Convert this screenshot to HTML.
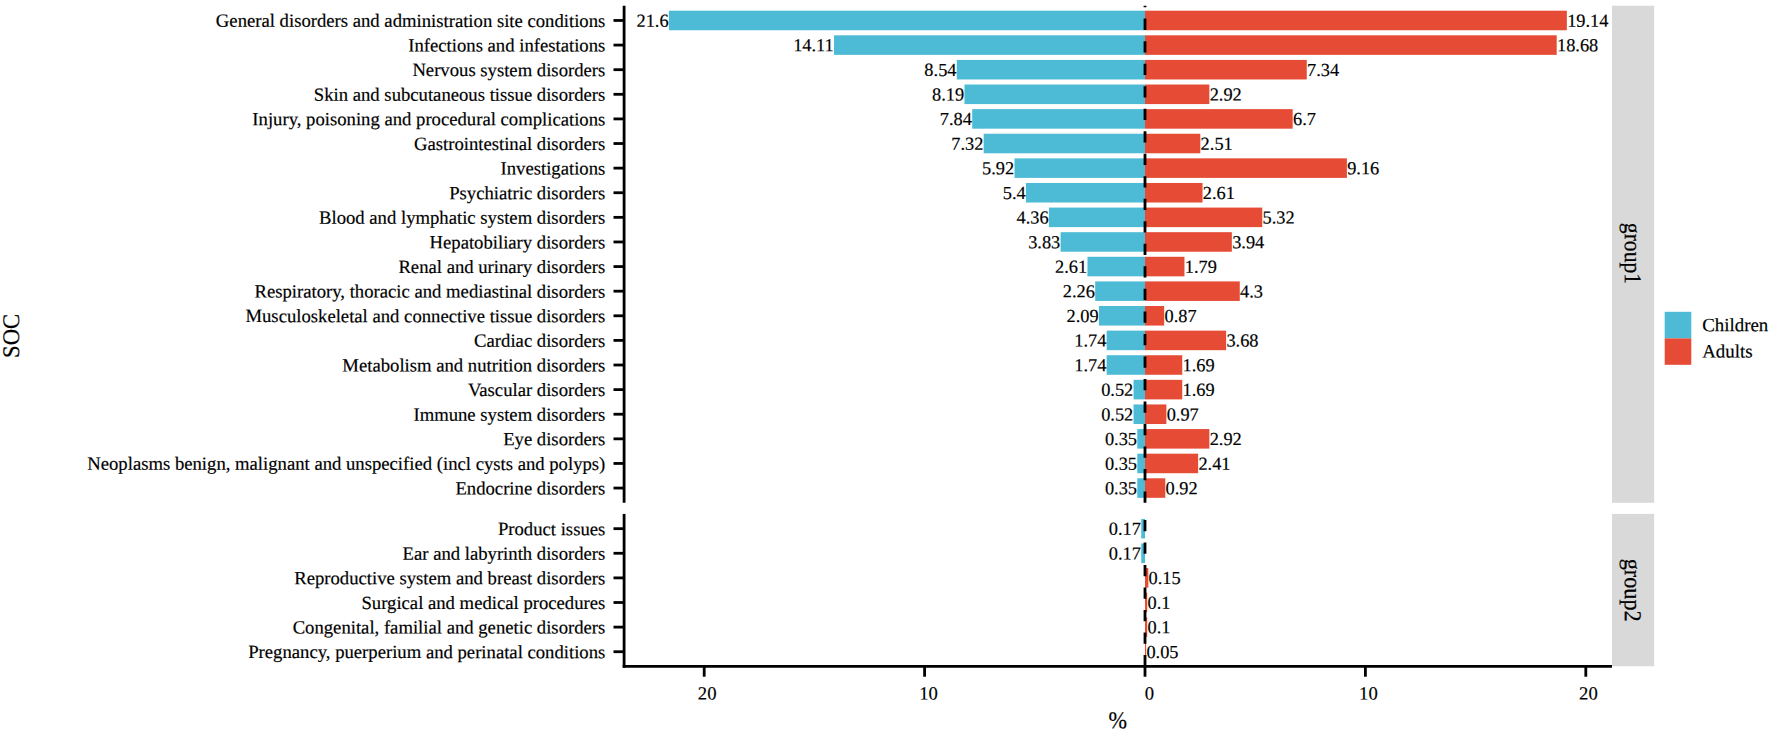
<!DOCTYPE html>
<html lang="en"><head><meta charset="utf-8"><title>SOC distribution</title>
<style>html,body{margin:0;padding:0;background:#fff}body{width:1772px;height:731px;overflow:hidden}svg{display:block}text{font-family:"Liberation Serif","Times New Roman",serif;fill:#000;stroke:#000;stroke-width:0.18px}.t{font-size:18.68px}.v{font-size:18.35px}.l{font-size:18.9px}.b{font-size:22px}</style></head><body>
<svg width="1772" height="731" viewBox="0 0 1772 731">
<rect width="1772" height="731" fill="#fff"/>
<rect x="668.94" y="10.69" width="476.06" height="19.55" fill="#4DBBD5"/>
<text class="v" transform="translate(668.64,26.67) matrix(1 0.0005 0 1 0 0)" text-anchor="end">21.6</text>
<rect x="1145.00" y="10.69" width="421.85" height="19.55" fill="#E64B35"/>
<text class="v" transform="translate(1567.15,26.67) matrix(1 0.0005 0 1 0 0)">19.14</text>
<line x1="613.50" y1="20.47" x2="624.10" y2="20.47" stroke="#000" stroke-width="2.8"/>
<text class="t" transform="translate(605.30,26.97) matrix(1 0.0005 0 1 0 0)" text-anchor="end">General disorders and administration site conditions</text>
<rect x="834.02" y="35.30" width="310.98" height="19.55" fill="#4DBBD5"/>
<text class="v" transform="translate(833.72,51.28) matrix(1 0.0005 0 1 0 0)" text-anchor="end">14.11</text>
<rect x="1145.00" y="35.30" width="411.71" height="19.55" fill="#E64B35"/>
<text class="v" transform="translate(1557.01,51.28) matrix(1 0.0005 0 1 0 0)">18.68</text>
<line x1="613.50" y1="45.08" x2="624.10" y2="45.08" stroke="#000" stroke-width="2.8"/>
<text class="t" transform="translate(605.30,51.58) matrix(1 0.0005 0 1 0 0)" text-anchor="end">Infections and infestations</text>
<rect x="956.78" y="59.91" width="188.22" height="19.55" fill="#4DBBD5"/>
<text class="v" transform="translate(956.48,75.89) matrix(1 0.0005 0 1 0 0)" text-anchor="end">8.54</text>
<rect x="1145.00" y="59.91" width="161.77" height="19.55" fill="#E64B35"/>
<text class="v" transform="translate(1307.07,75.89) matrix(1 0.0005 0 1 0 0)">7.34</text>
<line x1="613.50" y1="69.69" x2="624.10" y2="69.69" stroke="#000" stroke-width="2.8"/>
<text class="t" transform="translate(605.30,76.19) matrix(1 0.0005 0 1 0 0)" text-anchor="end">Nervous system disorders</text>
<rect x="964.49" y="84.52" width="180.51" height="19.55" fill="#4DBBD5"/>
<text class="v" transform="translate(964.19,100.50) matrix(1 0.0005 0 1 0 0)" text-anchor="end">8.19</text>
<rect x="1145.00" y="84.52" width="64.36" height="19.55" fill="#E64B35"/>
<text class="v" transform="translate(1209.66,100.50) matrix(1 0.0005 0 1 0 0)">2.92</text>
<line x1="613.50" y1="94.30" x2="624.10" y2="94.30" stroke="#000" stroke-width="2.8"/>
<text class="t" transform="translate(605.30,100.80) matrix(1 0.0005 0 1 0 0)" text-anchor="end">Skin and subcutaneous tissue disorders</text>
<rect x="972.21" y="109.13" width="172.79" height="19.55" fill="#4DBBD5"/>
<text class="v" transform="translate(971.91,125.11) matrix(1 0.0005 0 1 0 0)" text-anchor="end">7.84</text>
<rect x="1145.00" y="109.13" width="147.67" height="19.55" fill="#E64B35"/>
<text class="v" transform="translate(1292.97,125.11) matrix(1 0.0005 0 1 0 0)">6.7</text>
<line x1="613.50" y1="118.91" x2="624.10" y2="118.91" stroke="#000" stroke-width="2.8"/>
<text class="t" transform="translate(605.30,125.41) matrix(1 0.0005 0 1 0 0)" text-anchor="end">Injury, poisoning and procedural complications</text>
<rect x="983.67" y="133.74" width="161.33" height="19.55" fill="#4DBBD5"/>
<text class="v" transform="translate(983.37,149.72) matrix(1 0.0005 0 1 0 0)" text-anchor="end">7.32</text>
<rect x="1145.00" y="133.74" width="55.32" height="19.55" fill="#E64B35"/>
<text class="v" transform="translate(1200.62,149.72) matrix(1 0.0005 0 1 0 0)">2.51</text>
<line x1="613.50" y1="143.52" x2="624.10" y2="143.52" stroke="#000" stroke-width="2.8"/>
<text class="t" transform="translate(605.30,150.02) matrix(1 0.0005 0 1 0 0)" text-anchor="end">Gastrointestinal disorders</text>
<rect x="1014.52" y="158.35" width="130.48" height="19.55" fill="#4DBBD5"/>
<text class="v" transform="translate(1014.22,174.33) matrix(1 0.0005 0 1 0 0)" text-anchor="end">5.92</text>
<rect x="1145.00" y="158.35" width="201.89" height="19.55" fill="#E64B35"/>
<text class="v" transform="translate(1347.19,174.33) matrix(1 0.0005 0 1 0 0)">9.16</text>
<line x1="613.50" y1="168.13" x2="624.10" y2="168.13" stroke="#000" stroke-width="2.8"/>
<text class="t" transform="translate(605.30,174.63) matrix(1 0.0005 0 1 0 0)" text-anchor="end">Investigations</text>
<rect x="1025.98" y="182.96" width="119.02" height="19.55" fill="#4DBBD5"/>
<text class="v" transform="translate(1025.68,198.94) matrix(1 0.0005 0 1 0 0)" text-anchor="end">5.4</text>
<rect x="1145.00" y="182.96" width="57.52" height="19.55" fill="#E64B35"/>
<text class="v" transform="translate(1202.82,198.94) matrix(1 0.0005 0 1 0 0)">2.61</text>
<line x1="613.50" y1="192.74" x2="624.10" y2="192.74" stroke="#000" stroke-width="2.8"/>
<text class="t" transform="translate(605.30,199.24) matrix(1 0.0005 0 1 0 0)" text-anchor="end">Psychiatric disorders</text>
<rect x="1048.91" y="207.57" width="96.09" height="19.55" fill="#4DBBD5"/>
<text class="v" transform="translate(1048.61,223.55) matrix(1 0.0005 0 1 0 0)" text-anchor="end">4.36</text>
<rect x="1145.00" y="207.57" width="117.25" height="19.55" fill="#E64B35"/>
<text class="v" transform="translate(1262.55,223.55) matrix(1 0.0005 0 1 0 0)">5.32</text>
<line x1="613.50" y1="217.35" x2="624.10" y2="217.35" stroke="#000" stroke-width="2.8"/>
<text class="t" transform="translate(605.30,223.85) matrix(1 0.0005 0 1 0 0)" text-anchor="end">Blood and lymphatic system disorders</text>
<rect x="1060.59" y="232.18" width="84.41" height="19.55" fill="#4DBBD5"/>
<text class="v" transform="translate(1060.29,248.16) matrix(1 0.0005 0 1 0 0)" text-anchor="end">3.83</text>
<rect x="1145.00" y="232.18" width="86.84" height="19.55" fill="#E64B35"/>
<text class="v" transform="translate(1232.14,248.16) matrix(1 0.0005 0 1 0 0)">3.94</text>
<line x1="613.50" y1="241.96" x2="624.10" y2="241.96" stroke="#000" stroke-width="2.8"/>
<text class="t" transform="translate(605.30,248.46) matrix(1 0.0005 0 1 0 0)" text-anchor="end">Hepatobiliary disorders</text>
<rect x="1087.48" y="256.79" width="57.52" height="19.55" fill="#4DBBD5"/>
<text class="v" transform="translate(1087.18,272.77) matrix(1 0.0005 0 1 0 0)" text-anchor="end">2.61</text>
<rect x="1145.00" y="256.79" width="39.45" height="19.55" fill="#E64B35"/>
<text class="v" transform="translate(1184.75,272.77) matrix(1 0.0005 0 1 0 0)">1.79</text>
<line x1="613.50" y1="266.57" x2="624.10" y2="266.57" stroke="#000" stroke-width="2.8"/>
<text class="t" transform="translate(605.30,273.07) matrix(1 0.0005 0 1 0 0)" text-anchor="end">Renal and urinary disorders</text>
<rect x="1095.19" y="281.40" width="49.81" height="19.55" fill="#4DBBD5"/>
<text class="v" transform="translate(1094.89,297.38) matrix(1 0.0005 0 1 0 0)" text-anchor="end">2.26</text>
<rect x="1145.00" y="281.40" width="94.77" height="19.55" fill="#E64B35"/>
<text class="v" transform="translate(1240.07,297.38) matrix(1 0.0005 0 1 0 0)">4.3</text>
<line x1="613.50" y1="291.18" x2="624.10" y2="291.18" stroke="#000" stroke-width="2.8"/>
<text class="t" transform="translate(605.30,297.68) matrix(1 0.0005 0 1 0 0)" text-anchor="end">Respiratory, thoracic and mediastinal disorders</text>
<rect x="1098.94" y="306.01" width="46.06" height="19.55" fill="#4DBBD5"/>
<text class="v" transform="translate(1098.64,321.99) matrix(1 0.0005 0 1 0 0)" text-anchor="end">2.09</text>
<rect x="1145.00" y="306.01" width="19.17" height="19.55" fill="#E64B35"/>
<text class="v" transform="translate(1164.47,321.99) matrix(1 0.0005 0 1 0 0)">0.87</text>
<line x1="613.50" y1="315.79" x2="624.10" y2="315.79" stroke="#000" stroke-width="2.8"/>
<text class="t" transform="translate(605.30,322.29) matrix(1 0.0005 0 1 0 0)" text-anchor="end">Musculoskeletal and connective tissue disorders</text>
<rect x="1106.65" y="330.62" width="38.35" height="19.55" fill="#4DBBD5"/>
<text class="v" transform="translate(1106.35,346.60) matrix(1 0.0005 0 1 0 0)" text-anchor="end">1.74</text>
<rect x="1145.00" y="330.62" width="81.11" height="19.55" fill="#E64B35"/>
<text class="v" transform="translate(1226.41,346.60) matrix(1 0.0005 0 1 0 0)">3.68</text>
<line x1="613.50" y1="340.40" x2="624.10" y2="340.40" stroke="#000" stroke-width="2.8"/>
<text class="t" transform="translate(605.30,346.90) matrix(1 0.0005 0 1 0 0)" text-anchor="end">Cardiac disorders</text>
<rect x="1106.65" y="355.23" width="38.35" height="19.55" fill="#4DBBD5"/>
<text class="v" transform="translate(1106.35,371.21) matrix(1 0.0005 0 1 0 0)" text-anchor="end">1.74</text>
<rect x="1145.00" y="355.23" width="37.25" height="19.55" fill="#E64B35"/>
<text class="v" transform="translate(1182.55,371.21) matrix(1 0.0005 0 1 0 0)">1.69</text>
<line x1="613.50" y1="365.01" x2="624.10" y2="365.01" stroke="#000" stroke-width="2.8"/>
<text class="t" transform="translate(605.30,371.51) matrix(1 0.0005 0 1 0 0)" text-anchor="end">Metabolism and nutrition disorders</text>
<rect x="1133.54" y="379.84" width="11.46" height="19.55" fill="#4DBBD5"/>
<text class="v" transform="translate(1133.24,395.82) matrix(1 0.0005 0 1 0 0)" text-anchor="end">0.52</text>
<rect x="1145.00" y="379.84" width="37.25" height="19.55" fill="#E64B35"/>
<text class="v" transform="translate(1182.55,395.82) matrix(1 0.0005 0 1 0 0)">1.69</text>
<line x1="613.50" y1="389.62" x2="624.10" y2="389.62" stroke="#000" stroke-width="2.8"/>
<text class="t" transform="translate(605.30,396.12) matrix(1 0.0005 0 1 0 0)" text-anchor="end">Vascular disorders</text>
<rect x="1133.54" y="404.45" width="11.46" height="19.55" fill="#4DBBD5"/>
<text class="v" transform="translate(1133.24,420.43) matrix(1 0.0005 0 1 0 0)" text-anchor="end">0.52</text>
<rect x="1145.00" y="404.45" width="21.38" height="19.55" fill="#E64B35"/>
<text class="v" transform="translate(1166.68,420.43) matrix(1 0.0005 0 1 0 0)">0.97</text>
<line x1="613.50" y1="414.23" x2="624.10" y2="414.23" stroke="#000" stroke-width="2.8"/>
<text class="t" transform="translate(605.30,420.73) matrix(1 0.0005 0 1 0 0)" text-anchor="end">Immune system disorders</text>
<rect x="1137.29" y="429.06" width="7.71" height="19.55" fill="#4DBBD5"/>
<text class="v" transform="translate(1136.99,445.04) matrix(1 0.0005 0 1 0 0)" text-anchor="end">0.35</text>
<rect x="1145.00" y="429.06" width="64.36" height="19.55" fill="#E64B35"/>
<text class="v" transform="translate(1209.66,445.04) matrix(1 0.0005 0 1 0 0)">2.92</text>
<line x1="613.50" y1="438.84" x2="624.10" y2="438.84" stroke="#000" stroke-width="2.8"/>
<text class="t" transform="translate(605.30,445.34) matrix(1 0.0005 0 1 0 0)" text-anchor="end">Eye disorders</text>
<rect x="1137.29" y="453.67" width="7.71" height="19.55" fill="#4DBBD5"/>
<text class="v" transform="translate(1136.99,469.65) matrix(1 0.0005 0 1 0 0)" text-anchor="end">0.35</text>
<rect x="1145.00" y="453.67" width="53.12" height="19.55" fill="#E64B35"/>
<text class="v" transform="translate(1198.42,469.65) matrix(1 0.0005 0 1 0 0)">2.41</text>
<line x1="613.50" y1="463.45" x2="624.10" y2="463.45" stroke="#000" stroke-width="2.8"/>
<text class="t" transform="translate(605.30,469.95) matrix(1 0.0005 0 1 0 0)" text-anchor="end">Neoplasms benign, malignant and unspecified (incl cysts and polyps)</text>
<rect x="1137.29" y="478.28" width="7.71" height="19.55" fill="#4DBBD5"/>
<text class="v" transform="translate(1136.99,494.26) matrix(1 0.0005 0 1 0 0)" text-anchor="end">0.35</text>
<rect x="1145.00" y="478.28" width="20.28" height="19.55" fill="#E64B35"/>
<text class="v" transform="translate(1165.58,494.26) matrix(1 0.0005 0 1 0 0)">0.92</text>
<line x1="613.50" y1="488.06" x2="624.10" y2="488.06" stroke="#000" stroke-width="2.8"/>
<text class="t" transform="translate(605.30,494.56) matrix(1 0.0005 0 1 0 0)" text-anchor="end">Endocrine disorders</text>
<rect x="1141.25" y="518.89" width="3.75" height="19.55" fill="#4DBBD5"/>
<text class="v" transform="translate(1140.95,534.87) matrix(1 0.0005 0 1 0 0)" text-anchor="end">0.17</text>
<line x1="613.50" y1="528.67" x2="624.10" y2="528.67" stroke="#000" stroke-width="2.8"/>
<text class="t" transform="translate(605.30,535.17) matrix(1 0.0005 0 1 0 0)" text-anchor="end">Product issues</text>
<rect x="1141.25" y="543.50" width="3.75" height="19.55" fill="#4DBBD5"/>
<text class="v" transform="translate(1140.95,559.48) matrix(1 0.0005 0 1 0 0)" text-anchor="end">0.17</text>
<line x1="613.50" y1="553.28" x2="624.10" y2="553.28" stroke="#000" stroke-width="2.8"/>
<text class="t" transform="translate(605.30,559.78) matrix(1 0.0005 0 1 0 0)" text-anchor="end">Ear and labyrinth disorders</text>
<rect x="1145.00" y="568.11" width="3.31" height="19.55" fill="#E64B35"/>
<text class="v" transform="translate(1148.61,584.09) matrix(1 0.0005 0 1 0 0)">0.15</text>
<line x1="613.50" y1="577.89" x2="624.10" y2="577.89" stroke="#000" stroke-width="2.8"/>
<text class="t" transform="translate(605.30,584.39) matrix(1 0.0005 0 1 0 0)" text-anchor="end">Reproductive system and breast disorders</text>
<rect x="1145.00" y="592.72" width="2.20" height="19.55" fill="#E64B35"/>
<text class="v" transform="translate(1147.50,608.70) matrix(1 0.0005 0 1 0 0)">0.1</text>
<line x1="613.50" y1="602.50" x2="624.10" y2="602.50" stroke="#000" stroke-width="2.8"/>
<text class="t" transform="translate(605.30,609.00) matrix(1 0.0005 0 1 0 0)" text-anchor="end">Surgical and medical procedures</text>
<rect x="1145.00" y="617.33" width="2.20" height="19.55" fill="#E64B35"/>
<text class="v" transform="translate(1147.50,633.31) matrix(1 0.0005 0 1 0 0)">0.1</text>
<line x1="613.50" y1="627.11" x2="624.10" y2="627.11" stroke="#000" stroke-width="2.8"/>
<text class="t" transform="translate(605.30,633.61) matrix(1 0.0005 0 1 0 0)" text-anchor="end">Congenital, familial and genetic disorders</text>
<rect x="1145.00" y="641.94" width="1.10" height="19.55" fill="#E64B35"/>
<text class="v" transform="translate(1146.40,657.92) matrix(1 0.0005 0 1 0 0)">0.05</text>
<line x1="613.50" y1="651.72" x2="624.10" y2="651.72" stroke="#000" stroke-width="2.8"/>
<text class="t" transform="translate(605.30,658.22) matrix(1 0.0005 0 1 0 0)" text-anchor="end">Pregnancy, puerperium and perinatal conditions</text>
<line x1="1145.0" y1="502.8" x2="1145.0" y2="5.7" stroke="#000" stroke-width="2.8" stroke-dasharray="11.26 11.26"/>
<line x1="1145.0" y1="666.3" x2="1145.0" y2="513.9" stroke="#000" stroke-width="2.8" stroke-dasharray="11.26 11.26"/>
<line x1="624.1" y1="5.7" x2="624.1" y2="502.8" stroke="#000" stroke-width="2.8"/>
<line x1="624.1" y1="513.9" x2="624.1" y2="667.6999999999999" stroke="#000" stroke-width="2.8"/>
<line x1="622.7" y1="666.3" x2="1612" y2="666.3" stroke="#000" stroke-width="2.8"/>
<line x1="704.20" y1="666.3" x2="704.20" y2="676.7" stroke="#000" stroke-width="2.8"/>
<text class="t" transform="translate(707.20,699.60) matrix(1 0.0005 0 1 0 0)" text-anchor="middle">20</text>
<line x1="924.60" y1="666.3" x2="924.60" y2="676.7" stroke="#000" stroke-width="2.8"/>
<text class="t" transform="translate(928.60,699.60) matrix(1 0.0005 0 1 0 0)" text-anchor="middle">10</text>
<line x1="1145.00" y1="666.3" x2="1145.00" y2="676.7" stroke="#000" stroke-width="2.8"/>
<text class="t" transform="translate(1149.30,699.60) matrix(1 0.0005 0 1 0 0)" text-anchor="middle">0</text>
<line x1="1365.40" y1="666.3" x2="1365.40" y2="676.7" stroke="#000" stroke-width="2.8"/>
<text class="t" transform="translate(1368.40,699.60) matrix(1 0.0005 0 1 0 0)" text-anchor="middle">10</text>
<line x1="1585.80" y1="666.3" x2="1585.80" y2="676.7" stroke="#000" stroke-width="2.8"/>
<text class="t" transform="translate(1588.40,699.60) matrix(1 0.0005 0 1 0 0)" text-anchor="middle">20</text>
<rect x="1612" y="5.7" width="42.2" height="497.1" fill="#D9D9D9"/>
<rect x="1612" y="513.9" width="42.2" height="152.39999999999998" fill="#D9D9D9"/>
<text class="b" style="font-size:21.6px" transform="translate(1624.7,253.45) rotate(90.03) scale(1,1.12)" text-anchor="middle">group1</text>
<text class="b" style="font-size:22.2px" transform="translate(1624.7,590.20) rotate(90.03) scale(1,1.09)" text-anchor="middle">group2</text>
<text class="b" style="font-size:22.7px" transform="translate(18.9,335.9) rotate(-90.03) matrix(1 0.0005 0 1.05 0 0)" text-anchor="middle">SOC</text>
<text class="b" style="font-size:22.2px" transform="translate(1117.7,728.2) rotate(0.03) scale(1,1.09)" text-anchor="middle">%</text>
<rect x="1664.7" y="311.8" width="26.6" height="26.6" fill="#4DBBD5"/>
<rect x="1664.7" y="338.4" width="26.6" height="26.4" fill="#E64B35"/>
<text class="l" transform="translate(1702.20,331.30) matrix(1 0.0005 0 1 0 0)">Children</text>
<text class="l" transform="translate(1702.20,357.40) matrix(1 0.0005 0 1 0 0)">Adults</text>
</svg></body></html>
